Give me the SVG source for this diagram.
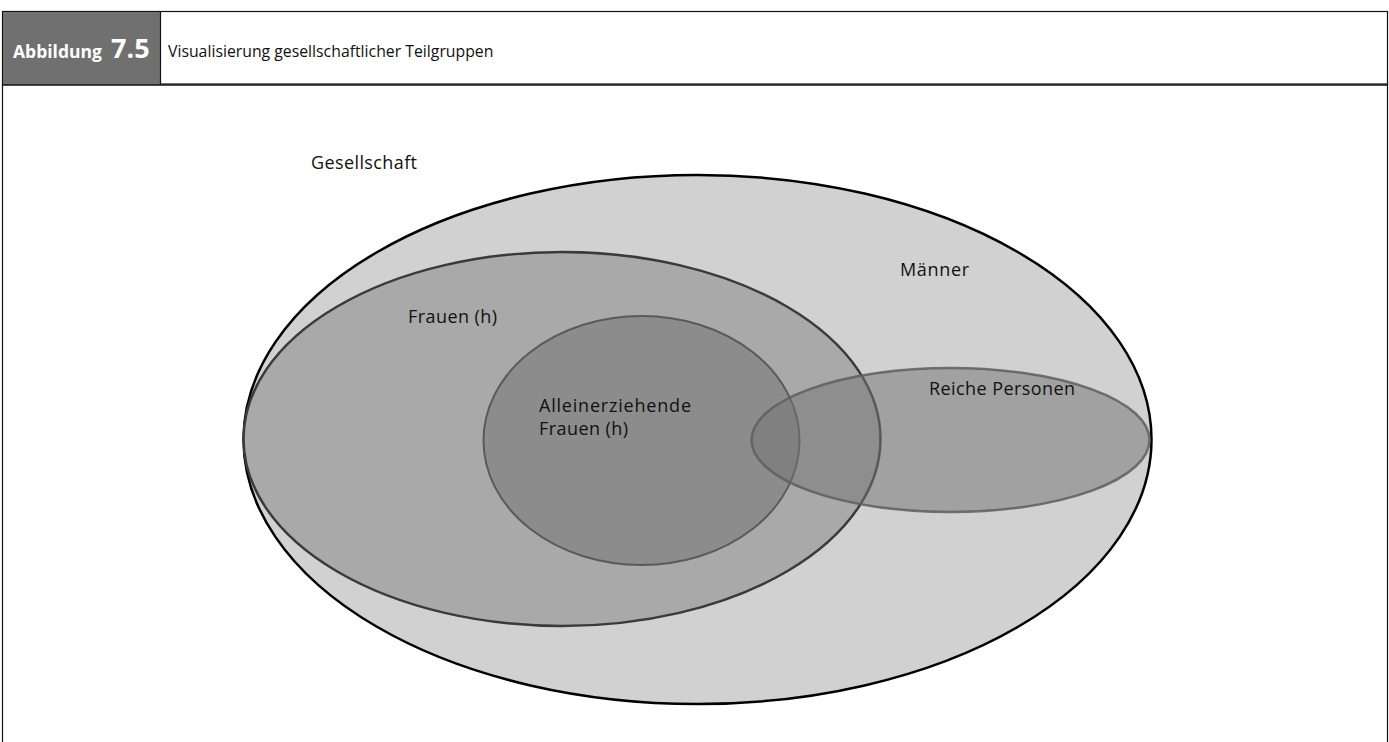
<svg xmlns="http://www.w3.org/2000/svg" width="1389" height="742" viewBox="0 0 1389 742">
<style>
.lbl{font-family:"Open Sans","Liberation Sans",sans-serif;font-size:18px;fill:#111}
.frame{fill:none;stroke:#111;stroke-width:1.2}
</style>
<rect x="0" y="0" width="1389" height="742" fill="#fff"/>
<g id="header">
<rect x="2.5" y="11.5" width="1385" height="72.5" fill="#fff" stroke="#111" stroke-width="1.2"/>
<rect x="3" y="12" width="157" height="72" fill="#707070"/>
<line x1="160.5" y1="11.5" x2="160.5" y2="84" stroke="#111" stroke-width="1.2"/>
<text x="13" y="58" font-family="'Open Sans','Liberation Sans',sans-serif" font-weight="bold" fill="#fff"><tspan font-size="17.5">Abbildung</tspan><tspan x="111" font-size="27">7.5</tspan></text>
<text x="168" y="57" class="lbl" style="font-size:15.8px">Visualisierung gesellschaftlicher Teilgruppen</text>
</g>
<g id="frame">
<path class="frame" d="M2.5 84 V742 M1387.5 84 V742"/>
<line x1="2.5" y1="85" x2="1387.5" y2="85" stroke="#111" stroke-width="1.5"/>
</g>
<g id="gesellschaft">
<ellipse cx="697.5" cy="439.5" rx="454" ry="264.5" fill="#d1d1d1" stroke="#000" stroke-width="2.5"/>
<text x="311" y="169" class="lbl" textLength="106">Gesellschaft</text>
</g>
<g id="frauen">
<ellipse cx="562" cy="439" rx="318.5" ry="187" fill="#a9a9a9" stroke="#3a3a3a" stroke-width="2.5"/>
<text x="408" y="323" class="lbl" textLength="89">Frauen (h)</text>
</g>
<g id="alleinerziehende">
<ellipse cx="641.5" cy="440.5" rx="158" ry="124.5" fill="#8c8c8c" stroke="#5a5a5a" stroke-width="2"/>
</g>
<g id="reiche">
<ellipse cx="950.5" cy="440" rx="199" ry="72" fill="#747474" fill-opacity="0.52" stroke="#5e5e5e" stroke-opacity="0.85" stroke-width="2.5"/>
</g>
<g id="labels">
<text x="900" y="276" class="lbl" textLength="69">Männer</text>
<text x="539" y="412" class="lbl" textLength="152">Alleinerziehende</text>
<text x="539" y="435" class="lbl" textLength="89">Frauen (h)</text>
<text x="929" y="395" class="lbl" textLength="146">Reiche Personen</text>
</g>
</svg>
